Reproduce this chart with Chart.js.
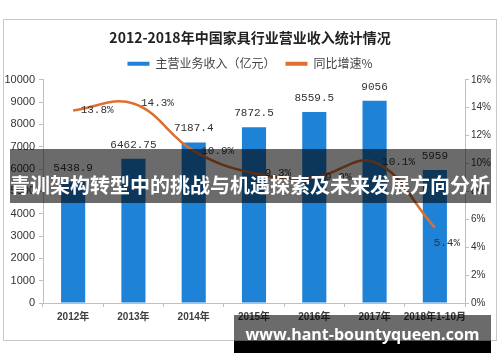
<!DOCTYPE html>
<html>
<head>
<meta charset="utf-8">
<script src="https://cdn.jsdelivr.net/npm/chart.js@4.4.0/dist/chart.umd.min.js"></script>
<style>
  body { margin: 0; background: #fff; }
  #wrap { position: relative; width: 500px; height: 362px; overflow: hidden; }
  #frame { position: absolute; left: 3px; top: 19px; width: 492px; height: 320px; border: 1px solid #c8c8c8; }
  #myChart { position: absolute; left: 0; top: 0; }
  .band { position: absolute; background: rgba(0, 0, 0, 0.58); color: #fff; font-weight: bold; white-space: nowrap; }
  #banner { left: 10px; top: 149px; width: 481px; height: 54px; font: bold 20px 'Noto Sans CJK SC', sans-serif; line-height: 22px; }
  #banner span { position: absolute; left: 0; top: 25px; }
  #site { left: 234px; top: 315px; width: 257px; height: 26px; }
  #siteBar { position: absolute; left: 234px; top: 341px; width: 257px; height: 12px; background: #000; }
  #siteText { position: absolute; left: 234px; top: 324px; width: 257px; text-align: center; color: #fff; font: bold 16px 'Open Sans', sans-serif; line-height: 20px; }
</style>
</head>
<body>
<div id="wrap">
  <div id="frame"></div>
  <canvas id="myChart" width="500" height="362"></canvas>
  <div id="banner" class="band"><span>青训架构转型中的挑战与机遇探索及未来发展方向分析</span></div>
  <div id="site" class="band"></div>
  <div id="siteBar"></div>
  <div id="siteText">www.hant-bountyqueen.com</div>
</div>
<script>
const years = ["2012年", "2013年", "2014年", "2015年", "2016年", "2017年", "2018年1-10月"];
const revenue = [5438.9, 6462.75, 7187.4, 7872.5, 8559.5, 9056, 5959];
const growth = [13.8, 14.3, 10.9, 9.3, 9.0, 10.1, 5.4];

const blue = "#1e82d6";
const orange = "#dd7031";

Chart.defaults.font.family = "'Liberation Sans', 'Noto Sans CJK SC', sans-serif";

// etiquetas de valores sobre barras y linea
const valueLabels = {
  id: "valueLabels",
  afterDatasetsDraw(chart) {
    const ctx = chart.ctx;
    ctx.save();
    ctx.font = "11px 'Liberation Mono', monospace";
    ctx.fillStyle = "#333";
    ctx.textAlign = "center";
    ctx.textBaseline = "middle";
    chart.getDatasetMeta(0).data.forEach((bar, i) => {
      ctx.fillText(String(revenue[i]), bar.x, bar.y - 14);
    });
    const pts = chart.getDatasetMeta(1).data;
    pts.forEach((p, i) => {
      const last = i === pts.length - 1;
      ctx.fillText(growth[i].toFixed(1) + "%", p.x + (last ? 12 : 24), p.y + (last ? 15 : 0));
    });
    ctx.restore();
  },
};

const ctx = document.getElementById("myChart").getContext("2d");
const myChart = new Chart(ctx, {
  type: "bar",
  data: {
    labels: years,
    datasets: [
      {
        label: "主营业务收入（亿元）",
        data: revenue,
        backgroundColor: blue,
        borderColor: blue,
        barPercentage: 0.4,
        categoryPercentage: 1,
        yAxisID: "y",
        order: 2,
      },
      {
        type: "line",
        label: "同比增速%",
        data: growth,
        borderColor: orange,
        backgroundColor: orange,
        borderWidth: 2.5,
        pointRadius: 0,
        tension: 0.4,
        fill: false,
        yAxisID: "y1",
        order: 1,
      },
    ],
  },
  options: {
    responsive: false,
    animation: false,
    plugins: {
      tooltip: { enabled: false },
      title: {
        display: true,
        text: "2012-2018年中国家具行业营业收入统计情况",
        color: "#222",
        font: { size: 14, weight: "bold", family: "'Noto Sans CJK SC', sans-serif" },
        padding: { top: 29, bottom: 2 },
      },
      legend: {
        labels: {
          boxWidth: 22,
          boxHeight: 4,
          padding: 10,
          color: "#444",
          font: { size: 12, family: "'Noto Sans CJK SC', sans-serif" },
          sort: (a, b) => a.datasetIndex - b.datasetIndex,
          generateLabels: (chart) =>
            Chart.defaults.plugins.legend.labels.generateLabels(chart).map((l) => ({ ...l, lineWidth: 0 })),
        },
      },
    },
    scales: {
      x: {
        offset: true,
        grid: { drawOnChartArea: false, offset: true, tickLength: 4, color: "#bfbfbf" },
        border: { color: "#bfbfbf" },
        ticks: { color: "#404040", font: { size: 10, weight: "bold" }, padding: 4, maxRotation: 0, autoSkip: false },
        afterFit: (s) => { s.height = 59; },
      },
      y: {
        position: "left",
        min: 0,
        max: 10000,
        ticks: { stepSize: 1000, color: "#333", font: { size: 11 }, padding: 4, callback: (v) => String(v) },
        grid: { drawOnChartArea: false, tickLength: 4, color: "#bfbfbf" },
        border: { color: "#bfbfbf" },
        afterFit: (s) => { s.width = 43; },
      },
      y1: {
        position: "right",
        min: 0,
        max: 16,
        ticks: { stepSize: 2, color: "#333", font: { size: 10 }, padding: 2, callback: (v) => v + "%" },
        grid: { drawOnChartArea: false, tickLength: 4, color: "#bfbfbf" },
        border: { color: "#bfbfbf" },
        afterFit: (s) => { s.width = 35; },
      },
    },
  },
  plugins: [valueLabels],
});
</script>
</body>
</html>
